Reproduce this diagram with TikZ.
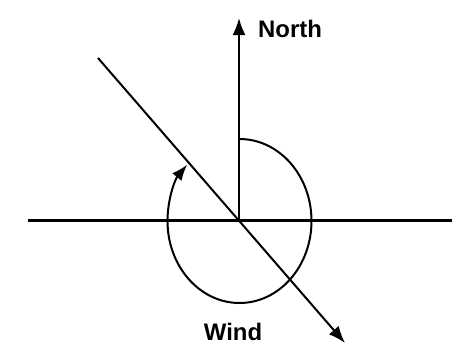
\documentclass[tikz,border=0pt]{standalone}
\usepackage{fontspec}
\setmainfont{Liberation Sans}
\usetikzlibrary{arrows.meta}

\begin{document}
\begin{tikzpicture}[x=1bp,y=1bp]
\tikzset{
  axisline/.style={line width=3bp},
  pointer/.style={-{Latex[length=17bp,width=13bp]},line width=2bp},
  turn/.style={-{Latex[length=16bp,width=12bp]},line width=2bp},
  lbl/.style={font=\bfseries\fontsize{24}{28}\selectfont,inner sep=0pt}
}
\useasboundingbox (0,0) rectangle (459,347);
\coordinate (c_O) at (239,127);
\coordinate (c_N) at (239,329);
\coordinate (c_L) at (28,127);
\coordinate (c_R) at (452,127);
\coordinate (c_WA) at (98,289);
\coordinate (c_WB) at (345,4);
\coordinate (c_T) at (239.5,208);
\node[lbl] (n_north) at (290,318) {North};
\node[lbl] (n_wind) at (233,15) {Wind};
\draw[axisline] (c_L) -- (c_R);
\draw[pointer] (c_O) -- (c_N);
\draw[pointer] (c_WA) -- (c_WB);
\draw[turn] (c_T) arc[start angle=90,end angle=-223.4,x radius=72,y radius=82];
\end{tikzpicture}
\end{document}
